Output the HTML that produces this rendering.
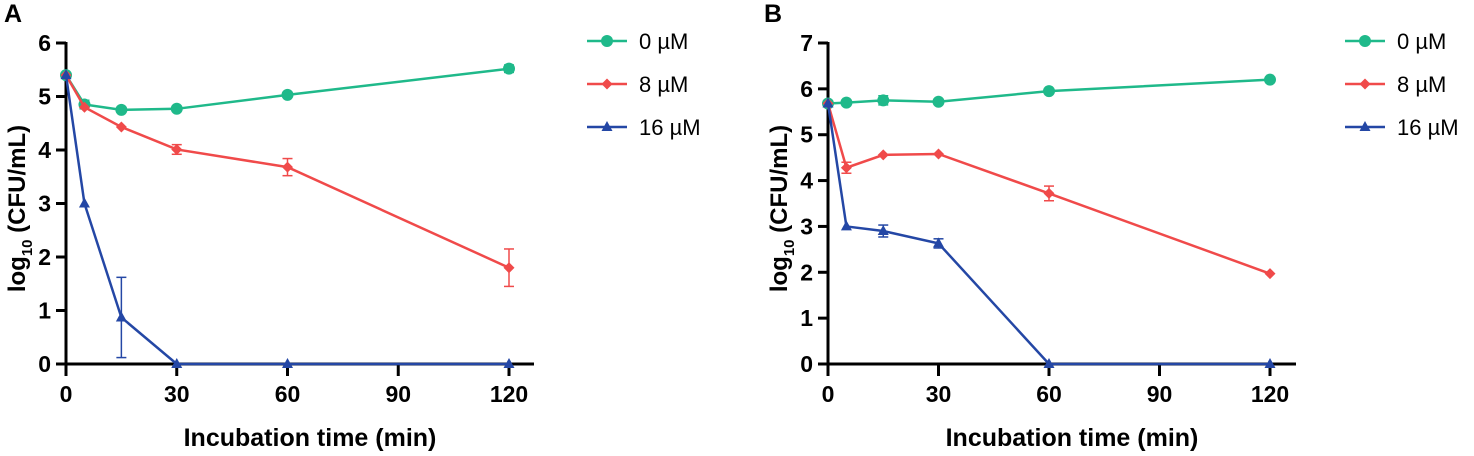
<!DOCTYPE html>
<html><head><meta charset="utf-8"><style>
body{margin:0;background:#fff;width:1474px;height:451px;overflow:hidden}
svg{font-family:"Liberation Sans",Arial,sans-serif;font-weight:bold}
</style></head><body>
<svg id="s" width="1474" height="451"></svg>
<script>
const xVals=[0,5,15,30,60,120];
const xTicks=[0,30,60,90,120];
const seriesNames=["0 µM","8 µM","16 µM"];
const colors=["#1fb98a","#f04a4a","#2447a5"];
const aGreen=[5.4,4.85,4.75,4.77,5.03,5.52];
const aGreenErr=[0.03,0.08,0.04,0.04,0.04,0.07];
const aRed=[5.4,4.8,4.43,4.01,3.68,1.8];
const aRedErr=[0,0.04,0.04,0.09,0.16,0.35];
const aBlue=[5.4,3.0,0.87,0,0,0];
const aBlueErr=[0,0.04,0.75,0,0,0];
const bGreen=[5.68,5.7,5.75,5.72,5.95,6.2];
const bGreenErr=[0.03,0.03,0.1,0.04,0.04,0.04];
const bRed=[5.68,4.28,4.56,4.58,3.72,1.97];
const bRedErr=[0,0.12,0.04,0.04,0.16,0.04];
const bBlue=[5.68,3.0,2.9,2.63,0,0];
const bBlueErr=[0,0.04,0.13,0.1,0,0];
const NS="http://www.w3.org/2000/svg";
const svg=document.getElementById('s');
function mk(t,a,p){const e=document.createElementNS(NS,t);for(const k in a)e.setAttribute(k,a[k]);(p||svg).appendChild(e);return e;}
function panel(cfg){
  const g=mk('g',{});
  
  
  const X=v=>cfg.x0+(cfg.x1-cfg.x0)*v/120;
  const Y=v=>cfg.y0-(cfg.y0-cfg.yTop)*v/cfg.ymax;
  const lab=mk('text',{x:cfg.lx,y:22,'font-size':25},g);lab.textContent=cfg.letter;
  
  
  const ax=mk('g',{stroke:'#000','stroke-width':3},g);
  
  
  mk('line',{x1:cfg.x0,y1:Y(cfg.ymax)-1,x2:cfg.x0,y2:cfg.y0+12},ax);
  mk('line',{x1:cfg.x0-10,y1:cfg.y0,x2:cfg.xend,y2:cfg.y0},ax);
  for(let i=0;i<=cfg.ymax;i++){
    mk('line',{x1:cfg.x0-10,y1:Y(i),x2:cfg.x0,y2:Y(i)},ax);
    const t=mk('text',{x:cfg.x0-15,y:Y(i)+8,'font-size':23,'text-anchor':'end'},g);t.textContent=i;
    
    
  }
  xTicks.forEach(v=>{
    mk('line',{x1:X(v),y1:cfg.y0,x2:X(v),y2:cfg.y0+12},ax);
    const t=mk('text',{x:X(v),y:cfg.y0+38,'font-size':23,'text-anchor':'middle'},g);t.textContent=v;
    
    
  });
  const xt=mk('text',{x:(cfg.x0+cfg.xend)/2+10,y:446,'font-size':25,'text-anchor':'middle'},g);xt.textContent='Incubation time (min)';
  
  
  const yt=mk('text',{transform:`translate(${cfg.x0-41},${(cfg.y0+cfg.yTop)/2+5}) rotate(-90)`,'font-size':24,'text-anchor':'middle'},g);
  yt.innerHTML='log<tspan font-size="15" dy="7">10</tspan><tspan dy="-7"> (CFU/mL)</tspan>';
  
  
  cfg.series.forEach((s,si)=>{
    const c=colors[si];
    const sg=mk('g',{},g);
    
    
    mk('polyline',{points:xVals.map((x,i)=>X(x)+','+Y(s.v[i])).join(' '),fill:'none',stroke:c,'stroke-width':2.5},sg);
    xVals.forEach((x,i)=>{
      const px=X(x),py=Y(s.v[i]),e=s.e[i];
      if(e>0.05){
        const eg=mk('g',{stroke:c,'stroke-width':1.5},sg);
        
        
        mk('line',{x1:px,y1:Y(s.v[i]+e),x2:px,y2:Y(Math.max(0,s.v[i]-e))},eg);
        mk('line',{x1:px-5,y1:Y(s.v[i]+e),x2:px+5,y2:Y(s.v[i]+e)},eg);
        mk('line',{x1:px-5,y1:Y(Math.max(0,s.v[i]-e)),x2:px+5,y2:Y(Math.max(0,s.v[i]-e))},eg);
      }
      let m;
      if(si===0)m=mk('circle',{cx:px,cy:py,r:6,fill:c},sg);
      else if(si===1)m=mk('polygon',{points:`${px},${py-5.5} ${px+5.5},${py} ${px},${py+5.5} ${px-5.5},${py}`,fill:c},sg);
      else m=mk('polygon',{points:`${px},${py-6} ${px+5.5},${py+4} ${px-5.5},${py+4}`,fill:c},sg);
      
      
    });
    const ly=cfg.legY+si*43;
    const lg=mk('g',{},g);
    
    
    mk('line',{x1:cfg.legX,y1:ly,x2:cfg.legX+40,y2:ly,stroke:c,'stroke-width':2.5},lg);
    const mx=cfg.legX+20;
    if(si===0)mk('circle',{cx:mx,cy:ly,r:6,fill:c},lg);
    else if(si===1)mk('polygon',{points:`${mx},${ly-5.5} ${mx+5.5},${ly} ${mx},${ly+5.5} ${mx-5.5},${ly}`,fill:c},lg);
    else mk('polygon',{points:`${mx},${ly-6} ${mx+5.5},${ly+4} ${mx-5.5},${ly+4}`,fill:c},lg);
    const lt=mk('text',{x:cfg.legX+52,y:ly+8,'font-size':22,'font-weight':'normal'},lg);lt.textContent=seriesNames[si];
  });
}
panel({id:'panel-a',letter:'A',lx:4,x0:66,x1:509,xend:534,y0:364,yTop:43,ymax:6,legX:587,legY:41,
  series:[{v:aGreen,e:aGreenErr},{v:aRed,e:aRedErr},{v:aBlue,e:aBlueErr}]});
panel({id:'panel-b',letter:'B',lx:764,x0:828,x1:1270,xend:1296,y0:364,yTop:43,ymax:7,legX:1345,legY:41,
  series:[{v:bGreen,e:bGreenErr},{v:bRed,e:bRedErr},{v:bBlue,e:bBlueErr}]});
</script>
</body></html>
